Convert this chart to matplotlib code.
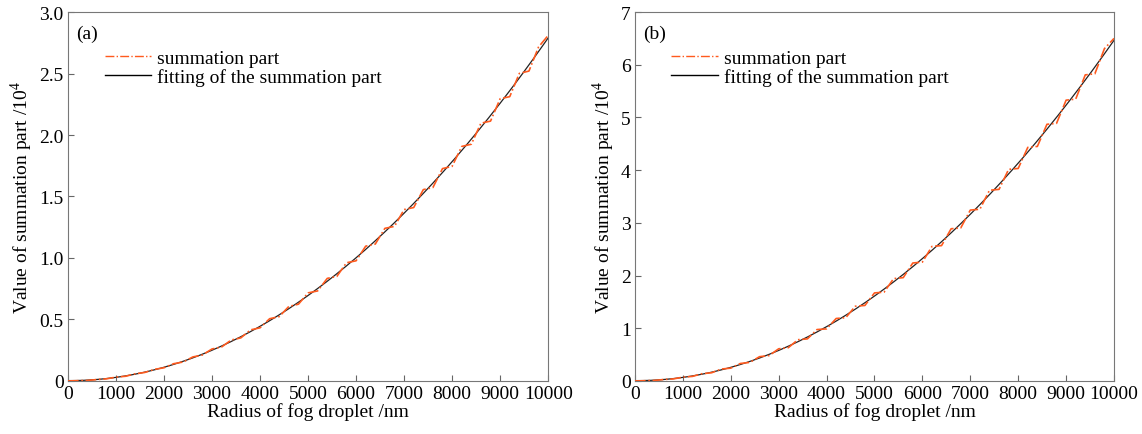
import numpy as np
import matplotlib
matplotlib.use("Agg")
from matplotlib import pyplot as plt
from matplotlib.lines import Line2D

plt.rcParams['font.family'] = ['Liberation Serif', 'DejaVu Serif']
plt.rcParams['mathtext.fontset'] = 'custom'
plt.rcParams['mathtext.rm'] = 'Liberation Serif'

# raio da gota (nm)
raio = np.arange(0, 10001, 200)

# parte da soma - painel (a), em 10^4
soma_a = [0.000, 0.002, 0.004, 0.011, 0.017, 0.031, 0.038, 0.058, 0.069, 0.094,
          0.107, 0.140, 0.154, 0.195, 0.211, 0.260, 0.276, 0.333, 0.350, 0.415,
          0.432, 0.506, 0.523, 0.606, 0.624, 0.716, 0.732, 0.834, 0.850, 0.961,
          0.977, 1.096, 1.113, 1.241, 1.257, 1.394, 1.410, 1.556, 1.573, 1.727,
          1.745, 1.907, 1.925, 2.096, 2.113, 2.295, 2.312, 2.501, 2.520, 2.716,
          2.810]

# parte da soma - painel (b), em 10^4
soma_b = [0.000, 0.004, 0.009, 0.027, 0.038, 0.072, 0.086, 0.137, 0.155, 0.225,
          0.243, 0.331, 0.352, 0.460, 0.481, 0.610, 0.630, 0.782, 0.798, 0.975,
          0.988, 1.185, 1.200, 1.418, 1.432, 1.670, 1.685, 1.942, 1.960, 2.238,
          2.255, 2.553, 2.568, 2.888, 2.902, 3.242, 3.258, 3.618, 3.635, 4.015,
          4.032, 4.432, 4.450, 4.870, 4.888, 5.328, 5.348, 5.808, 5.828, 6.306,
          6.500]

xticks = list(range(0, 10001, 1000))
yticks_a = [0, 0.5, 1.0, 1.5, 2.0, 2.5, 3.0]
ylabels_a = ['0', '0.5', '1.0', '1.5', '2.0', '2.5', '3.0']
yticks_b = [0, 1, 2, 3, 4, 5, 6, 7]

laranja = '#ff5a1e'

fig = plt.figure(figsize=(11.42, 4.35), dpi=100)
ax1 = fig.add_axes([0.0595, 0.122, 0.4205, 0.848])
ax2 = fig.add_axes([0.556, 0.122, 0.4195, 0.848])

paineis = [(ax1, soma_a, '(a)', yticks_a, ylabels_a, 3.0),
           (ax2, soma_b, '(b)', yticks_b, [str(v) for v in yticks_b], 7)]

for ax, soma, letra, yt, yl, ymax in paineis:
    coef = np.polyfit(raio, soma, 2)  # ajuste da parte da soma
    xfit = np.linspace(0, 10000, 300)
    ax.plot(xfit, np.polyval(coef, xfit), color='#222222', lw=0.9, zorder=2)
    ax.plot(raio, soma, color=laranja, ls='-.', lw=1.2, zorder=3)
    ax.set_xlim(0, 10000)
    ax.set_ylim(0, ymax)
    ax.set_xticks(xticks)
    ax.set_xticklabels([str(v) for v in xticks])
    ax.set_yticks(yt)
    ax.set_yticklabels(yl)
    ax.tick_params(direction='in', labelsize=14, length=4, color='#666666', pad=3)
    for s in ax.spines.values():
        s.set_color('#777777')
    ax.set_xlabel('Radius of fog droplet /nm', fontsize=14, labelpad=0)
    ax.set_ylabel(r'Value of summation part /10$^4$', fontsize=14, labelpad=3)
    ax.text(0.018, 0.965, letra, transform=ax.transAxes, fontsize=14, va='top')
    handles = [Line2D([], [], color=laranja, ls='-.', lw=1.0),
               Line2D([], [], color='k', lw=1.0)]
    ax.legend(handles, ['summation part', 'fitting of the summation part'],
              loc='upper left', bbox_to_anchor=(0.06, 0.92), frameon=False,
              fontsize=14, handlelength=2.4, handletextpad=0.3,
              labelspacing=0.05, borderaxespad=0)

plt.savefig('out.png', dpi=100)
